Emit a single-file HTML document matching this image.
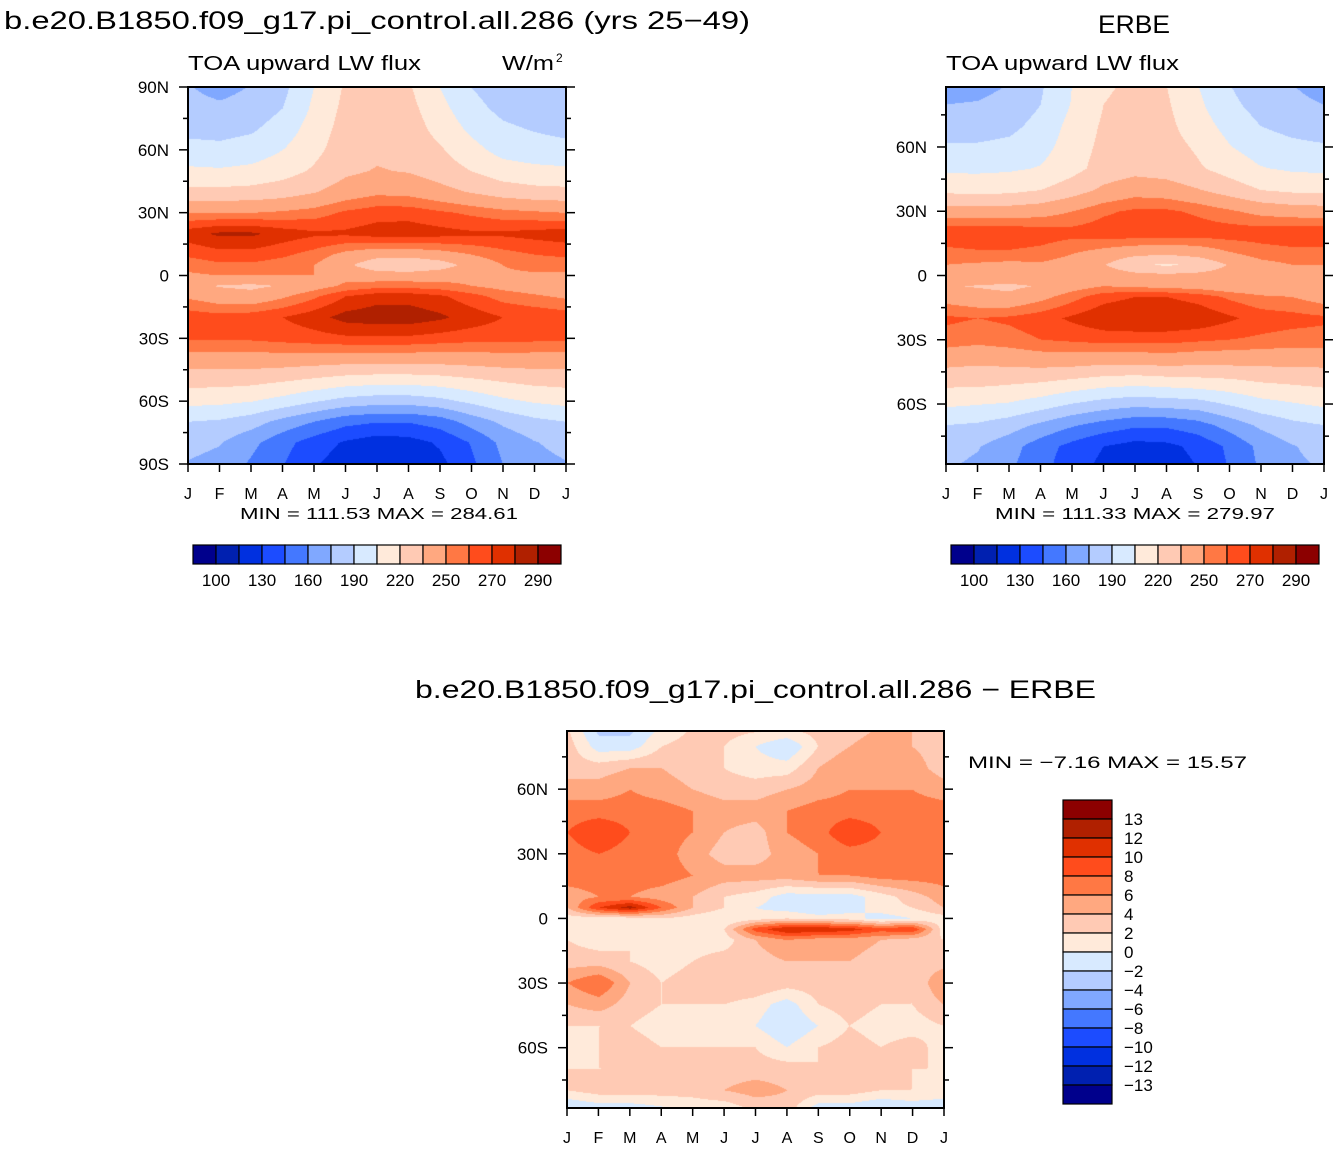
<!DOCTYPE html>
<html><head><meta charset="utf-8">
<style>
body{margin:0;width:1340px;height:1149px;background:#fff;position:relative;overflow:hidden;font-family:"Liberation Sans",sans-serif;color:#000}
canvas{position:absolute}
svg{position:absolute;left:0;top:0}
</style></head>
<body>
<canvas id="c1" width="378" height="377" style="left:188px;top:87px"></canvas>
<canvas id="c2" width="378" height="377" style="left:946px;top:87px"></canvas>
<canvas id="c3" width="377" height="377" style="left:567px;top:731px"></canvas>
<svg id="ov" width="1340" height="1149"></svg>
<script>
const months=["J","F","M","A","M","J","J","A","S","O","N","D","J"];
const lats=[90,80,70,60,50,40,30,20,10,5,0,-5,-10,-20,-30,-40,-50,-60,-70,-80,-90];
const colors=["#00008C","#0020B0","#0030E0","#1C4CFF","#4478FF","#80A8FF","#B4CCFF","#D8EAFF","#FFEADA","#FFCAB4","#FFA880","#FF7844","#FF4C1C","#E03000","#B02000","#8C0000"];
const absLevels=[100,115,130,145,160,175,190,205,220,235,250,260,270,280,290];
const absTickLabels=["100","130","160","190","220","250","270","290"];
const diffLevels=[-13,-12,-10,-8,-6,-4,-2,0,2,4,6,8,10,12,13];
const diffTickLabels=["13","12","10","8","6","4","2","0","\u22122","\u22124","\u22126","\u22128","\u221210","\u221212","\u221213"];
const model=[
[176,170,176,186,205,222,226,222,205,190,182,178,176],
[180,178,181,190,208,224,228,225,210,195,186,182,180],
[186,185,188,197,212,226,230,228,215,202,193,189,186],
[195,194,197,205,216,228,232,230,222,210,200,197,195],
[208,207,209,214,222,232,236,234,228,220,212,209,208],
[224,224,225,228,234,242,247,246,240,234,228,225,224],
[250,250,250,252,255,262,266,266,262,258,254,252,250],
[276,282,282,276,272,272,275,276,274,272,272,274,276],
[262,266,266,262,256,246,240,240,244,250,256,260,262],
[254,258,258,255,250,238,226,222,228,240,250,254,254],
[248,250,250,250,250,246,242,242,244,246,248,248,248],
[238,234,232,236,244,252,256,256,254,250,246,242,238],
[248,242,240,248,258,270,276,276,272,264,256,252,248],
[266,264,266,270,276,284,286,286,282,276,270,268,266],
[262,262,262,264,266,268,268,268,266,264,264,263,262],
[244,244,244,244,243,242,242,242,242,243,244,244,244],
[226,226,225,222,218,214,212,212,214,218,222,225,226],
[210,209,206,200,192,185,182,182,186,194,202,207,210],
[190,188,182,170,160,150,146,146,152,166,178,186,190],
[180,176,164,150,138,128,122,124,132,146,164,174,180],
[174,170,158,146,132,122,116,118,126,142,160,170,174]];
const erbe=[
[170,170,175,188,205,218,222,220,205,190,180,175,170],
[175,176,180,190,206,220,224,222,208,194,184,178,175],
[182,183,186,195,210,222,226,224,212,200,190,185,182],
[192,192,194,200,212,224,228,226,218,206,198,194,192],
[202,202,203,206,215,226,230,228,222,214,206,203,202],
[216,215,216,220,228,238,244,242,236,228,220,217,216],
[242,242,242,244,250,258,262,262,258,252,246,243,242],
[268,268,268,266,264,266,268,268,266,266,266,268,268],
[256,258,258,256,250,244,238,236,240,248,254,256,256],
[250,248,246,248,244,236,222,218,222,236,246,250,250],
[246,246,246,246,246,244,240,238,240,242,246,246,246],
[236,234,232,236,244,250,248,246,244,240,238,238,236],
[244,240,238,246,256,266,270,270,266,258,252,250,244],
[262,260,262,266,272,278,280,280,278,272,266,264,262],
[256,254,256,260,262,264,264,264,262,260,258,256,256],
[240,238,240,242,242,240,240,242,240,240,240,240,240],
[224,224,222,220,216,212,210,212,214,216,220,222,224],
[208,206,204,198,190,184,180,182,184,192,200,204,208],
[190,188,182,172,162,154,148,148,154,166,178,186,190],
[180,176,166,152,140,130,124,126,134,148,164,174,180],
[176,172,162,150,136,126,120,122,130,146,162,172,176]];
const diff=[
[2,-3,-3,0,2,3,3,3,3,3,4,4,2],
[3,-1,-1,2,3,2,0,-2,2,4,5,4,3],
[3,3,4,4,3,2,1,1,4,6,5,5,3],
[5,5,6,5,4,3,3,4,5,6,6,6,5],
[7,7,7,7,6,5,5,6,7,7,7,7,7],
[8,10,8,7,6,4,3,6,7,10,8,7,8],
[7,8,7,7,5,3,3,5,6,7,7,7,7],
[7,7,7,7,6,5,5,5,6,6,7,7,7],
[5,6,6,5,4,2,1,-1,-1,-1,1,3,5],
[4,10,13,8,4,2,0,-1,-2,-1,1,2,4],
[1,1,1,2,1,0,1,2,1,1,-1,0,1],
[1,0,1,0,0,2,9,12,12,11,9,10,1],
[2,1,2,1,1,1,4,6,5,5,4,3,2],
[3,3,2,1,2,3,3,4,4,4,3,3,3],
[6,8,4,2,3,4,4,3,3,4,3,2,6],
[4,5,3,2,2,2,1,-1,2,3,2,2,4],
[2,2,2,1,1,1,0,-2,0,2,1,1,2],
[1,2,3,2,2,2,2,0,2,3,2,3,1],
[2,2,2,3,3,3,3,3,2,3,3,2,2],
[2,3,3,3,3,4,5,4,3,3,2,2,2],
[-3,-2,-2,-1,0,0,2,3,-2,-2,-3,-2,-3]];

function hex(c){return [parseInt(c.slice(1,3),16),parseInt(c.slice(3,5),16),parseInt(c.slice(5,7),16)];}
const rgb=colors.map(hex);
function sample(data,m,lat){
  let i=0;while(i<lats.length-2&&lat<lats[i+1])i++;
  let ty=(lats[i]-lat)/(lats[i]-lats[i+1]);ty=Math.max(0,Math.min(1,ty));
  let j=Math.min(11,Math.floor(m));let tx=m-j;
  const a=data[i][j]*(1-tx)+data[i][j+1]*tx, b=data[i+1][j]*(1-tx)+data[i+1][j+1]*tx;
  return a*(1-ty)+b*ty;
}
function drawField(id,data,latTop,latBot,levels){
  const cv=document.getElementById(id),ctx=cv.getContext('2d'),w=cv.width,h=cv.height;
  const img=ctx.createImageData(w,h);
  for(let y=0;y<h;y++)for(let x=0;x<w;x++){
    const m=x/(w-1)*12,lat=latTop-(y/(h-1))*(latTop-latBot);
    const v=sample(data,m,lat)-1e-3;let k=0;while(k<levels.length&&v>=levels[k])k++;
    const c=rgb[k],p=(y*w+x)*4;img.data[p]=c[0];img.data[p+1]=c[1];img.data[p+2]=c[2];img.data[p+3]=255;}
  ctx.putImageData(img,0,0);
}
drawField('c1',model,90,-90,absLevels);
drawField('c2',erbe,88,-88,absLevels);
drawField('c3',diff,87,-88,diffLevels);

const NS="http://www.w3.org/2000/svg",ov=document.getElementById('ov');
function el(t,a,txt){const e=document.createElementNS(NS,t);for(const k in a)e.setAttribute(k,a[k]);if(txt!==undefined)e.textContent=txt;ov.appendChild(e);return e;}
function txt(x,y,s,size,anchor,name,len){const a={x:x,y:y,'font-size':size,'text-anchor':anchor||'start','font-family':'Liberation Sans, sans-serif'};
if(len){a.textLength=len;a.lengthAdjust='spacingAndGlyphs';}
const e=el('text',a,s);

return e;}
function axes(x0,y0,w,h,latTop,latBot,majors,prefix){
  const ly=l=>y0+(latTop-l)/(latTop-latBot)*h;
  const b=el('rect',{x:x0,y:y0,width:w,height:h,fill:'none',stroke:'#000','stroke-width':2});
  
  
  for(let l=-90;l<=90;l+=15){if(l>latTop||l<latBot)continue;const y=ly(l),len=l%30===0?9:5;
    el('line',{x1:x0-len,x2:x0,y1:y,y2:y,stroke:'#000','stroke-width':1.5});
    el('line',{x1:x0+w,x2:x0+w+len,y1:y,y2:y,stroke:'#000','stroke-width':1.5});}
  majors.forEach(l=>{const s=l===0?'0':Math.abs(l)+(l>0?'N':'S');txt(x0-19,ly(l)+6,s,17,'end',prefix+'-lat-label');});
  months.forEach((m,i)=>{const x=x0+i*w/12;el('line',{x1:x,x2:x,y1:y0+h,y2:y0+h+8,stroke:'#000','stroke-width':1.5});
    txt(x,y0+h+35,m,16,'middle',prefix+'-month-label');});
}
axes(188,87,378,377,90,-90,[90,60,30,0,-30,-60,-90],'model');
axes(946,87,378,377,88,-88,[60,30,0,-30,-60],'erbe');
axes(567,731,377,377,87,-88,[60,30,0,-30,-60],'diff');

txt(4,29,"b.e20.B1850.f09_g17.pi_control.all.286 (yrs 25\u221249)",25,'start','model-title',746);
txt(188,70,"TOA upward LW flux",20,'start','model-subtitle',233);
const u=txt(502,70,"W/m",20,'start','model-units',52);
const sup=el('text',{x:556,y:62,'font-size':12,'font-family':'Liberation Sans, sans-serif'},'2');


txt(1134,33,"ERBE",25,'middle','erbe-title',72);
txt(946,70,"TOA upward LW flux",20,'start','erbe-subtitle',233);
txt(240,519,"MIN =  111.53  MAX =  284.61",16,'start','model-min-max',278);
txt(995,519,"MIN =  111.33  MAX =  279.97",16,'start','erbe-min-max',280);
txt(415,698,"b.e20.B1850.f09_g17.pi_control.all.286 \u2212 ERBE",25,'start','diff-title',681);
txt(968,768,"MIN =   \u22127.16  MAX =   15.57",17,'start','diff-min-max',279);

function hbar(x0,prefix){
  colors.forEach((c,i)=>{const r=el('rect',{x:x0+i*23,y:545,width:23,height:19,fill:c,stroke:'#000','stroke-width':1.2});
    
    });
  absTickLabels.forEach((s,k)=>txt(x0+(2*k+1)*23,586,s,17,'middle',prefix+'-colorbar-label'));
}
hbar(193,'model');hbar(951,'erbe');
colors.slice().reverse().forEach((c,i)=>{const r=el('rect',{x:1063,y:800+i*19,width:49,height:19,fill:c,stroke:'#000','stroke-width':1.2});
  
  });
diffTickLabels.forEach((s,k)=>{txt(1124,825+k*19,s,17,'start','diff-colorbar-label');});
</script>
</body></html>
